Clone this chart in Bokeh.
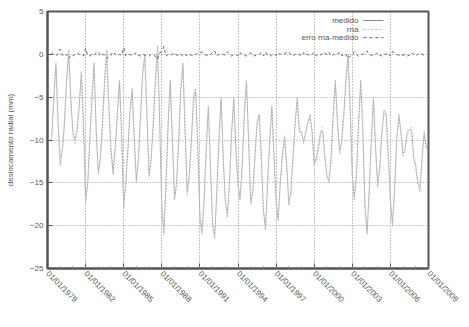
import math
import pandas as pd
from bokeh.plotting import figure
from bokeh.models import Range1d, FixedTicker, Label, Arrow
from bokeh.embed import file_html
from bokeh.resources import INLINE

# ---- data, bimonthly from May 1979 ----
start_date = "1979-05-01"
medido_mm = [
    -10, -5, -1, -8,                      # 1979
    -13, -11, -8, -3, 0.5, -5,            # 1980
    -9, -10, -9, -6, -2, -8,              # 1981
    -17.5, -15, -10, -5, -1, -9,          # 1982
    -14, -12, -8, -3, 0.5, -6,            # 1983
    -11, -14, -11, -7, -3, -9,            # 1984
    -18, -15, -11, -6.5, -4, -10,         # 1985
    -15, -12, -7, -2, 0, -7,              # 1986
    -14, -12, -8, -3, 1, -8,              # 1987
    -18, -21, -15, -8, -3, -10,           # 1988
    -17, -15, -10, -4, -1, -9,            # 1989
    -16, -14, -10, -5, -4, -11,           # 1990
    -19, -21, -17, -11, -6, -13,          # 1991
    -20, -21.5, -16, -10, -5, -12,        # 1992
    -17, -19, -15, -9, -5, -11,           # 1993
    -15, -17, -13, -7, -3, -10,           # 1994
    -17.5, -16, -12, -8, -7, -12,         # 1995
    -18, -20.5, -15, -10, -6, -12,        # 1996
    -17, -19.4, -15, -12, -9.7, -13,      # 1997
    -17.6, -16, -12, -8, -5, -9,          # 1998
    -9, -10.4, -9, -8, -7, -9,            # 1999
    -13, -12, -11, -9, -9, -12,           # 2000
    -14, -15, -12, -7, -3, -8,            # 2001
    -11.6, -10, -7, -3, 0, -6,            # 2002
    -14, -17, -14, -8, -3, -9,            # 2003
    -18, -21, -16, -10, -5, -11,          # 2004
    -15.5, -13, -9, -6.5, -7, -12,        # 2005
    -17, -20, -16, -10, -7, -9,           # 2006
    -11.6, -11, -9, -8.8, -9, -12,        # 2007
    -13, -15, -16, -12, -9, -11,          # 2008
]
rna_mm = [
    -9.5, -5.5, -1.5, -7.5,
    -12, -11.5, -8.5, -3.5, -0.5, -5.5,
    -9.5, -10.5, -8.5, -6, -2.5, -8.5,
    -16.5, -15.5, -10.5, -5.5, -1.5, -8.5,
    -13.5, -12.5, -8.5, -3.5, -0.5, -6.5,
    -11.5, -13.5, -11, -7.5, -3.5, -9.5,
    -17, -15.5, -11.5, -7, -4.5, -10,
    -14.5, -12.5, -7.5, -2.5, -0.5, -7.5,
    -14.5, -12.5, -8.5, -3.5, 0, -7.5,
    -17.5, -20, -15.5, -8.5, -3.5, -10,
    -16.5, -15.5, -10.5, -4.5, -1.5, -9,
    -16.5, -14.5, -10.5, -5.5, -4.5, -10.5,
    -18.5, -20.5, -17, -11.5, -6.5, -13,
    -19.5, -21, -16.5, -10.5, -5.5, -12,
    -17.5, -18.5, -15, -9.5, -5.5, -11,
    -15.5, -16.5, -13, -7.5, -3.5, -10,
    -17, -16.5, -12.5, -8.5, -7, -11.5,
    -18.5, -20, -15.5, -10, -6.5, -12,
    -17.5, -19, -15, -11.5, -9.5, -12.5,
    -17, -16.5, -12.5, -8.5, -5.5, -9,
    -9.5, -10, -9.5, -8, -7.5, -9,
    -12.5, -12.5, -11, -9.5, -8.5, -11.5,
    -14.5, -14.5, -12.5, -7.5, -3.5, -8,
    -11, -10.5, -7.5, -3.5, -0.5, -6.5,
    -14.5, -16.5, -14, -8.5, -3.5, -9,
    -17.5, -20.5, -16, -10.5, -5.5, -11,
    -15, -13.5, -9.5, -7, -7, -11.5,
    -17.5, -19.5, -15.5, -10, -7.5, -9.5,
    -12, -11, -9.5, -9, -8.5, -12,
    -13.5, -15, -15.5, -12, -9.5, -11,
]
erro_mm = [
    0.2, -0.1, -0.2, 0.1,
    0.6, -0.1, -0.2, 0, -0.5, -0.1,
    -0.2, 0, 0.2, 0, -0.1, -0.2,
    0.7, -0.1, -0.2, 0, -0.1, 0.2,
    0.3, -0.2, 0, -0.1, -0.5, -0.2,
    -0.1, 0.3, 0, -0.2, 0, -0.1,
    0.8, -0.2, -0.1, 0, -0.2, 0,
    0.2, -0.1, -0.2, 0, -0.1, -0.2,
    -0.2, 0, -0.1, -0.2, -0.6, 0.2,
    0.3, 0.9, -0.2, 0, -0.1, 0,
    0.2, -0.1, -0.2, 0, -0.2, 0,
    -0.2, 0, -0.1, -0.2, 0, 0.2,
    0.2, 0.3, 0, -0.1, -0.2, 0,
    0.2, 0.4, -0.2, 0, -0.1, 0,
    -0.1, 0.3, 0, -0.2, 0, 0,
    -0.2, 0.2, 0, -0.1, -0.2, 0,
    0.2, -0.1, -0.2, 0, 0, 0.2,
    -0.2, 0.3, -0.1, 0, -0.2, 0,
    -0.1, 0.2, 0, 0.2, 0.1, 0.2,
    0.3, -0.1, -0.2, 0, -0.1, 0,
    -0.2, 0.2, -0.1, 0, -0.2, 0,
    0.2, -0.2, 0, -0.1, 0.2, 0.2,
    -0.1, 0.2, -0.2, 0, -0.1, 0,
    0.3, -0.1, -0.2, 0, -0.5, -0.2,
    -0.1, 0.3, 0, -0.2, 0, 0,
    0.2, 0.4, 0, -0.1, -0.2, 0,
    0.2, -0.1, -0.2, 0, 0, 0.2,
    -0.2, 0.3, 0.2, 0, -0.1, -0.2,
    -0.1, 0, -0.2, -0.1, 0.2, 0,
    -0.2, 0, 0.2, 0, -0.1, 0,
]
tick_labels = ["01/01/1979", "01/01/1982", "01/01/1985", "01/01/1988",
               "01/01/1991", "01/01/1994", "01/01/1997", "01/01/2000",
               "01/01/2003", "01/01/2006", "01/01/2009"]
y_ticks = [-25, -20, -15, -10, -5, 0, 5]
legend_labels = ["medido", "rna", "erro rna-medido"]

# ---- build ----
dates = pd.date_range(start_date, periods=len(medido_mm), freq="2MS")


def ms(ts):
    return pd.Timestamp(ts).value // 10**6


tick_ms = [ms(pd.to_datetime(t, format="%d/%m/%Y")) for t in tick_labels]
x0, x1 = tick_ms[0], tick_ms[-1]
minor_ms = [ms(pd.Timestamp(year=y, month=1, day=1)) for y in range(1979, 2010)]

FONT = "Liberation Sans"
p = figure(width=469, height=327, x_axis_type="datetime",
           x_range=Range1d(x0, x1), y_range=Range1d(-25, 5),
           output_backend="svg", toolbar_location=None,
           min_border_left=47, min_border_right=41,
           min_border_top=11, min_border_bottom=59)
p.background_fill_color = "white"
p.border_fill_color = "white"
p.outline_line_color = "#555555"
p.outline_line_width = 2

p.xaxis.ticker = FixedTicker(ticks=tick_ms, minor_ticks=minor_ms)
p.xaxis.major_label_overrides = {t: l for t, l in zip(tick_ms, tick_labels)}
p.xaxis.major_label_orientation = -math.pi / 4
p.yaxis.ticker = FixedTicker(ticks=y_ticks)

for ax in (p.xaxis[0], p.yaxis[0]):
    ax.axis_line_color = "#555555"
    ax.axis_line_width = 2
    ax.major_tick_in = 5
    ax.major_tick_out = 0
    ax.major_tick_line_color = "#555555"
    ax.minor_tick_in = 2
    ax.minor_tick_out = 0
    ax.minor_tick_line_color = "#777777"
    ax.major_label_text_font = FONT
    ax.major_label_text_font_size = "8px"
    ax.major_label_text_color = "#555555"
    ax.major_label_standoff = 4
p.yaxis.minor_tick_line_color = None

p.yaxis.axis_label = "deslocamento radial (mm)"
p.yaxis.axis_label_text_font = FONT
p.yaxis.axis_label_text_font_size = "8px"
p.yaxis.axis_label_text_font_style = "normal"
p.yaxis.axis_label_text_color = "#555555"
p.yaxis.axis_label_standoff = 12

p.xgrid.grid_line_color = "#888888"
p.xgrid.grid_line_dash = "1 2"
p.ygrid.grid_line_color = "#999999"
p.ygrid.grid_line_dash = "1 2"

p.line(dates, medido_mm, line_color="#bdbdbd", line_width=0.9)
p.line(dates, rna_mm, line_color="#a0a0a0", line_width=0.9, line_dash="1 2")
p.line(dates, erro_mm, line_color="#666666", line_width=1, line_dash="3 3")

# ---- gnuplot-style legend (text then sample) ----
span = x1 - x0
def xf(frac):
    return x0 + frac * span

rows_y = [3.95, 2.9, 1.95]
styles = [("#888888", "solid"), ("#bbbbbb", "2 2"), ("#666666", "3 3")]
for lab, yy, (col, dash) in zip(legend_labels, rows_y, styles):
    p.add_layout(Label(x=xf(0.816), y=yy, text=lab, text_align="right",
                       text_baseline="middle", text_font=FONT,
                       text_font_size="8px", text_color="#555555"))
    p.add_layout(Arrow(x_start=xf(0.829), y_start=yy, x_end=xf(0.882), y_end=yy,
                       start=None, end=None, line_color=col, line_width=1,
                       line_dash=dash))

open("out.html", "w").write(file_html(p, INLINE))
